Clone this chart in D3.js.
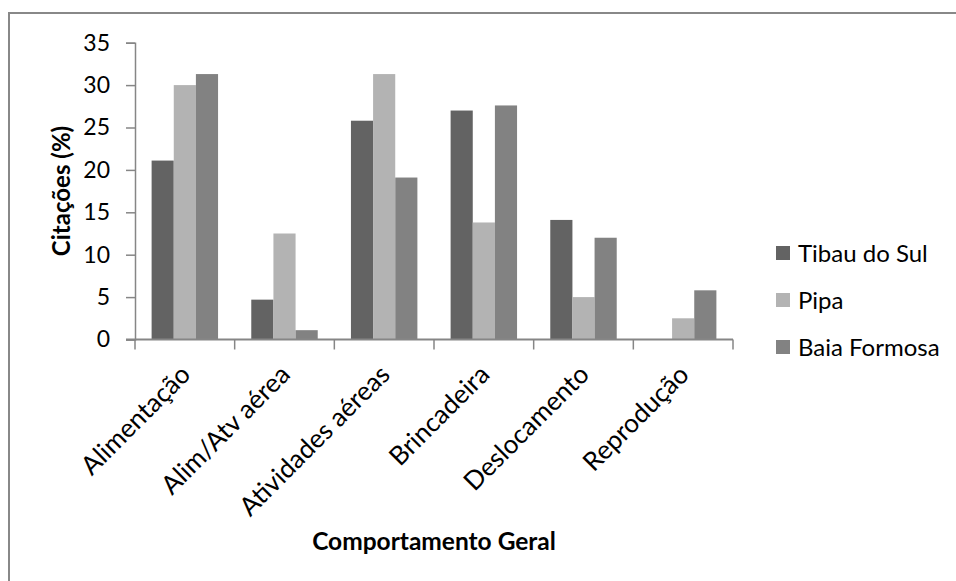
<!DOCTYPE html>
<html>
<head>
<meta charset="utf-8">
<script src="https://cdn.jsdelivr.net/npm/d3@7"></script>
<style>
  html, body { margin: 0; padding: 0; background: #fff; }
  svg { display: block; }
  text { font-family: Lato, "Open Sans", sans-serif; fill: #000; }
</style>
</head>
<body>
<svg id="chart" width="956" height="581"></svg>
<script>
// Categorias de comportamento e citações (%) por localidade
const categories = ["Alimentação", "Alim/Atv aérea", "Atividades aéreas", "Brincadeira", "Deslocamento", "Reprodução"];
const seriesNames = ["Tibau do Sul", "Pipa", "Baia Formosa"];
const tibauDoSul  = [21.1, 4.7, 25.8, 27.0, 14.1, 0];
const pipa        = [30.0, 12.5, 31.3, 13.8, 5.0, 2.5];
const baiaFormosa = [31.3, 1.1, 19.1, 27.6, 12.0, 5.8];
const yTicks = [0, 5, 10, 15, 20, 25, 30, 35];
const seriesColors = ["#636363", "#b3b3b3", "#828282"];

const seriesValues = [tibauDoSul, pipa, baiaFormosa];

const svg = d3.select("#chart");

// moldura do gráfico
svg.append("rect")
  .attr("x", 9).attr("y", 13)
  .attr("width", 980).attr("height", 620)
  .attr("fill", "#fff")
  .attr("stroke", "#888888")
  .attr("stroke-width", 2);

const plot = { left: 135, right: 733, top: 42.7, bottom: 339.5 };

const x = d3.scaleBand()
  .domain(categories)
  .range([plot.left, plot.right])
  .paddingInner(1 / 3)
  .paddingOuter(1 / 6);

const xs = d3.scaleBand()
  .domain(seriesNames)
  .range([0, x.bandwidth()])
  .padding(0);

const y = d3.scaleLinear()
  .domain([0, 35])
  .range([plot.bottom, plot.top]);

// barras
const groups = svg.append("g").selectAll("g")
  .data(categories)
  .join("g")
  .attr("transform", d => `translate(${x(d)},0)`);

groups.selectAll("rect")
  .data((c, i) => seriesNames.map((s, k) => ({ s, k, v: seriesValues[k][i] })))
  .join("rect")
  .attr("x", d => xs(d.s))
  .attr("width", xs.bandwidth())
  .attr("y", d => y(d.v))
  .attr("height", d => y(0) - y(d.v))
  .attr("fill", d => seriesColors[d.k]);

// eixo Y
const yAxis = svg.append("g")
  .attr("transform", `translate(${plot.left},0)`)
  .call(d3.axisLeft(y).tickValues(yTicks).tickSize(9).tickPadding(16).tickFormat(d3.format("d")));
yAxis.select(".domain").attr("stroke", "#868686").attr("stroke-width", 1.5);
yAxis.selectAll(".tick line").attr("stroke", "#868686").attr("stroke-width", 1.5);
yAxis.selectAll(".tick text")
  .attr("font-size", 23)
  .attr("font-family", "Lato, sans-serif")
  .attr("fill", "#000");

// eixo X (linha e marcas entre categorias)
const xAxisG = svg.append("g");
xAxisG.append("line")
  .attr("x1", plot.left - 9).attr("x2", plot.right)
  .attr("y1", y(0)).attr("y2", y(0))
  .attr("stroke", "#868686").attr("stroke-width", 2);
const step = x.step();
const boundaries = d3.range(categories.length + 1).map(i => plot.left + i * step);
xAxisG.selectAll("line.tick")
  .data(boundaries)
  .join("line")
  .attr("class", "tick")
  .attr("x1", d => d).attr("x2", d => d)
  .attr("y1", y(0)).attr("y2", y(0) + 10)
  .attr("stroke", "#868686").attr("stroke-width", 1.5);

// rótulos das categorias, inclinados
xAxisG.selectAll("text")
  .data(categories)
  .join("text")
  .attr("transform", d => `translate(${x(d) + x.bandwidth() / 2 - 2},${367}) rotate(-45)`)
  .attr("text-anchor", "end")
  .attr("dy", "0.5em")
  .attr("font-size", 26)
  .text(d => d);

// títulos dos eixos
svg.append("text")
  .attr("transform", `translate(70,191) rotate(-90)`)
  .attr("text-anchor", "middle")
  .attr("font-size", 24)
  .attr("font-weight", "bold")
  .text("Citações (%)");

svg.append("text")
  .attr("x", (plot.left + plot.right) / 2)
  .attr("y", 550)
  .attr("text-anchor", "middle")
  .attr("font-size", 24.5)
  .attr("font-weight", "bold")
  .text("Comportamento Geral");

// legenda
const legend = svg.append("g")
  .selectAll("g")
  .data(seriesNames)
  .join("g")
  .attr("transform", (d, i) => `translate(776,${253 + i * 47})`);
legend.append("rect")
  .attr("x", 0).attr("y", -7)
  .attr("width", 14).attr("height", 14)
  .attr("fill", (d, i) => seriesColors[i]);
legend.append("text")
  .attr("x", 22)
  .attr("dy", "0.36em")
  .attr("font-size", 24)
  .text(d => d);
</script>
</body>
</html>
